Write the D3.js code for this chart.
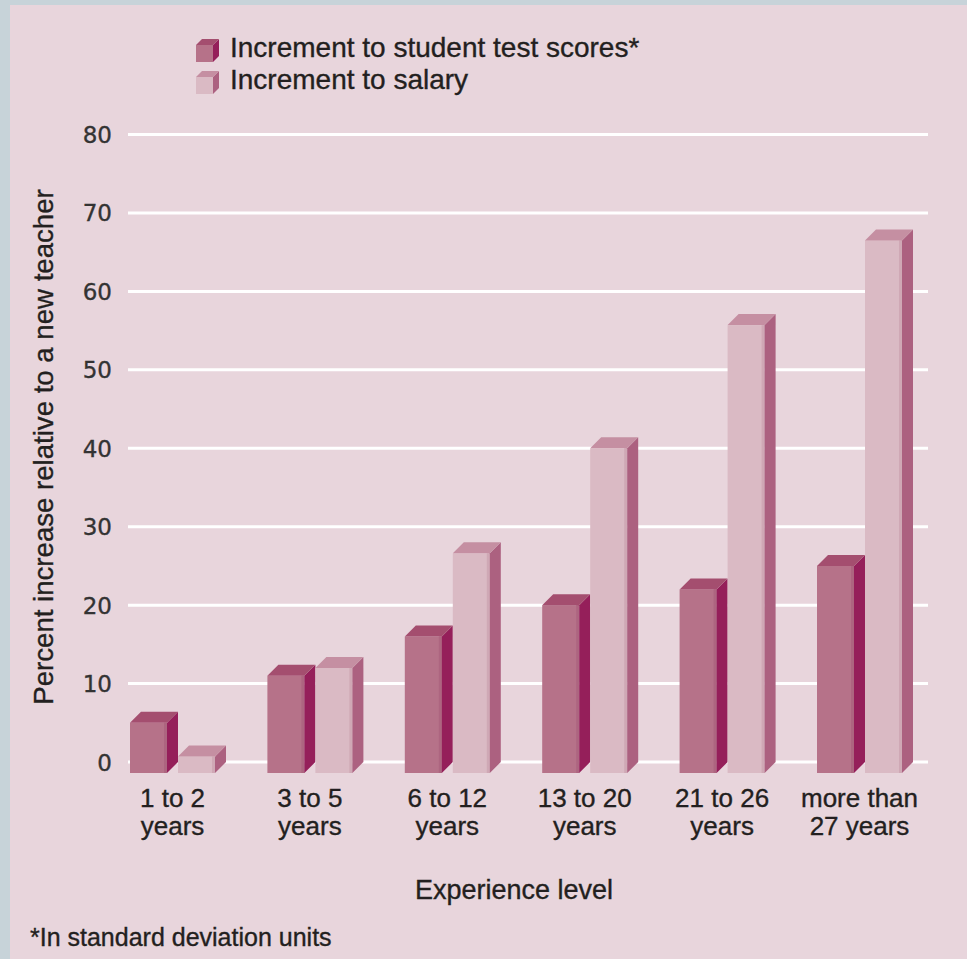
<!DOCTYPE html>
<html>
<head>
<meta charset="utf-8">
<script src="https://cdn.jsdelivr.net/npm/d3@7"></script>
<style>
  html, body { margin: 0; padding: 0; background: #c7d3d9; }
  svg { display: block; }
  text { font-family: "Liberation Sans", Arial, sans-serif; fill: #231f20; stroke: #231f20; stroke-width: 0.35px; }
</style>
</head>
<body>
<div id="chart"></div>
<script>
// chart data
const categories = [['1 to 2', 'years'], ['3 to 5', 'years'], ['6 to 12', 'years'],
    ['13 to 20', 'years'], ['21 to 26', 'years'], ['more than', '27 years']];
const testScores = [5, 11, 16, 20, 22, 25];
const salary = [0.7, 12, 26.6, 40, 55.7, 66.5];
const yTicks = [0, 10, 20, 30, 40, 50, 60, 70, 80];
const seriesNames = ['Increment to student test scores*', 'Increment to salary'];

const width = 967, height = 959;
const depth = 11;   // 3d offset of the bars

// colours: front, right edge of front, side, top
const palette = {
    test: { front: '#b67289', edge: '#ad6580', side: '#951f5a', top: '#a44e6f' },
    salary: { front: '#dabac4', edge: '#cfa8b5', side: '#ac6180', top: '#c58fa2' }
};

const svg = d3.select('#chart').append('svg')
    .attr('width', width)
    .attr('height', height);

// panel
svg.append('rect')
    .attr('x', 10).attr('y', 5)
    .attr('width', width - 10).attr('height', height - 5)
    .attr('fill', '#e8d5dc');

// Scales
const yScale = d3.scaleLinear().domain([0, 80]).range([762, 134.5]);

const keys = categories.map(c => c.join(' '));
const x0 = d3.scaleBand()
    .domain(keys)
    .range([130, 913])
    .paddingInner(0.3013)
    .paddingOuter(0);

const x1 = d3.scaleBand()
    .domain(['test', 'salary'])
    .range([0, x0.bandwidth()]);

const faceW = x1.bandwidth() - depth;

// gridlines
svg.append('g')
    .selectAll('line')
    .data(yTicks)
    .join('line')
    .attr('x1', 128)
    .attr('x2', 928)
    .attr('y1', d => yScale(d))
    .attr('y2', d => yScale(d))
    .attr('stroke', '#fff')
    .attr('stroke-width', 3);

// y tick labels
svg.append('g')
    .selectAll('text')
    .data(yTicks)
    .join('text')
    .attr('x', 112)
    .attr('y', d => yScale(d))
    .attr('dy', '0.37em')
    .attr('text-anchor', 'end')
    .style('font-family', '"DejaVu Sans", sans-serif')
    .style('font-size', '23px')
    .style('fill', '#333')
    .style('stroke', '#333')
    .text(d => d);

// bars
const rows = [];
keys.forEach((k, i) => {
    rows.push({ cat: k, key: 'test', value: testScores[i] });
    rows.push({ cat: k, key: 'salary', value: salary[i] });
});

const base = yScale(0) + depth;   // front face bottom

const bars = svg.append('g')
    .selectAll('g')
    .data(rows)
    .join('g')
    .attr('transform', d => `translate(${x0(d.cat) + x1(d.key)},0)`);

// front face
bars.append('rect')
    .attr('x', 0)
    .attr('y', d => yScale(d.value))
    .attr('width', faceW)
    .attr('height', d => base - yScale(d.value))
    .attr('fill', d => palette[d.key].front);

bars.append('rect')
    .attr('x', faceW - 3)
    .attr('y', d => yScale(d.value))
    .attr('width', 3)
    .attr('height', d => base - yScale(d.value))
    .attr('fill', d => palette[d.key].edge);

// side face
bars.append('path')
    .attr('d', d => {
        const t = yScale(d.value);
        return `M${faceW},${t}L${faceW + depth},${t - depth}L${faceW + depth},${base - depth}L${faceW},${base}Z`;
    })
    .attr('fill', d => palette[d.key].side);

// top face
bars.append('path')
    .attr('d', d => {
        const t = yScale(d.value);
        return `M0,${t}L${depth},${t - depth}L${faceW + depth},${t - depth}L${faceW},${t}Z`;
    })
    .attr('fill', d => palette[d.key].top);

// category labels, two lines each
const catG = svg.append('g')
    .selectAll('g')
    .data(categories)
    .join('g')
    .attr('transform', (d, i) => `translate(${x0(keys[i]) + (x0.bandwidth() - depth) / 2},0)`);

catG.selectAll('text')
    .data(d => d)
    .join('text')
    .attr('x', 0)
    .attr('y', (t, j) => 807 + j * 28)
    .attr('text-anchor', 'middle')
    .style('font-size', '26px')
    .text(t => t);

// axis titles
svg.append('text')
    .attr('x', 514)
    .attr('y', 899)
    .attr('text-anchor', 'middle')
    .style('font-size', '27px')
    .text('Experience level');

svg.append('text')
    .attr('transform', 'translate(53,447) rotate(-90)')
    .attr('text-anchor', 'middle')
    .style('font-size', '27.6px')
    .text('Percent increase relative to a new teacher');

// footnote
svg.append('text')
    .attr('x', 30)
    .attr('y', 946)
    .style('font-size', '25px')
    .text('*In standard deviation units');

// legend
const legend = svg.append('g')
    .selectAll('g')
    .data(['test', 'salary'])
    .join('g')
    .attr('transform', (d, i) => `translate(196,${45 + i * 32})`);

const ld = 6, ls = 17;
legend.append('rect')
    .attr('width', ls).attr('height', ls)
    .attr('fill', d => palette[d].front);
legend.append('path')
    .attr('d', `M${ls},0L${ls + ld},${-ld}L${ls + ld},${ls - ld}L${ls},${ls}Z`)
    .attr('fill', d => palette[d].side);
legend.append('path')
    .attr('d', `M0,0L${ld},${-ld}L${ls + ld},${-ld}L${ls},0Z`)
    .attr('fill', d => palette[d].top);
legend.append('text')
    .attr('x', 34)
    .attr('y', 12)
    .style('font-size', '28px')
    .text((d, i) => seriesNames[i]);
</script>
</body>
</html>
